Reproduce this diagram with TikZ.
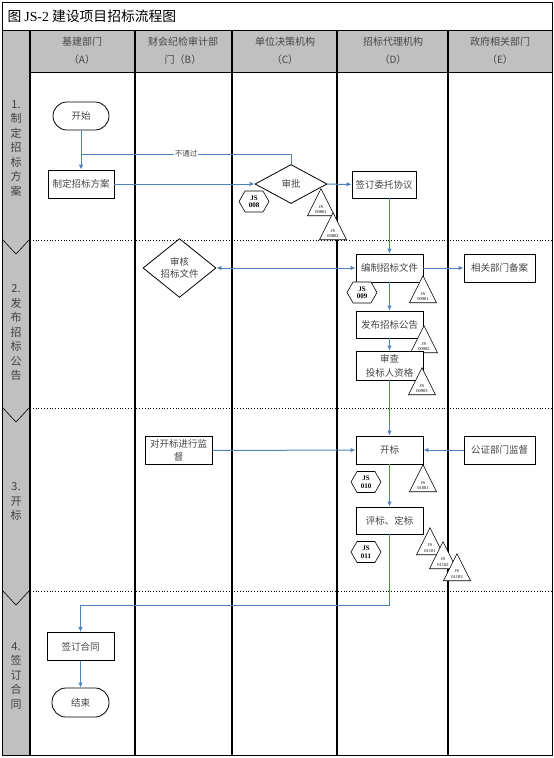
\documentclass[tikz,border=0pt]{standalone}
\usepackage{fontspec}
\setmainfont{Noto Sans CJK SC}
\newfontfamily\latinfont{Liberation Serif}
\definecolor{flowblue}{RGB}{79, 129, 189}
\definecolor{lanegray}{RGB}{192, 192, 192}
\definecolor{textgray}{RGB}{70, 70, 70}
\usetikzlibrary{arrows.meta, shapes.geometric, shapes.symbols, calc}

\begin{document}
\begin{tikzpicture}[
    x=1pt, y=-1pt,
    every node/.append style={font=\fontsize{9.5}{14}\selectfont, text=textgray},
    >={Latex[length=5pt, width=4.5pt]},
  ]

  \tikzset{
    procbox/.style={
      draw=black, line width=0.8pt, fill=white,
      minimum width=67pt, minimum height=28pt, inner sep=1pt, align=center,
    },
    termbox/.style={
      draw=black, line width=0.8pt, fill=white, rounded corners=14pt,
      minimum width=56pt, minimum height=28pt,
    },
    decision/.style={
      diamond, draw=black, line width=0.8pt, fill=white,
      minimum width=72pt, minimum height=39pt, inner sep=0pt, align=center,
      font=\fontsize{9.5}{12}\selectfont,
    },
    hexmark/.style={
      signal, signal to=east and west, signal pointer angle=120,
      draw=black, line width=0.6pt, fill=white,
      minimum width=30pt, minimum height=21pt, inner sep=0pt, align=center,
      font=\latinfont\bfseries\fontsize{7}{7.5}\selectfont, text=black,
    },
    trimark/.style={
      isosceles triangle, shape border rotate=90, isosceles triangle stretches,
      draw=black, line width=0.6pt, fill=white,
      minimum width=27pt, minimum height=27pt, inner sep=0pt, align=center,
      font=\latinfont\fontsize{4.5}{5.5}\selectfont, text=black, anchor=apex,
    },
    flow/.style={->, line width=1pt, draw=flowblue},
    lanehead/.style={font=\fontsize{10}{18}\selectfont, align=center},
    phaselabel/.style={font=\fontsize{11}{14.5}\selectfont, align=center, text=black!75},
  }

  %% ---------------- FRAME AND LANES ----------------
  \useasboundingbox (0,0) rectangle (554,758);
  \fill[lanegray] (2,30) rectangle (552,72);
  \fill[lanegray] (2,72) rectangle (30,755);
  \draw[line width=0.8pt] (2,2) rectangle (552,755);
  \draw[line width=0.8pt] (2,30) -- (552,30);
  \draw[line width=0.8pt] (30,72) -- (552,72);
  \foreach \x in {30,135,232,337,448}
    \draw[line width=1.3pt] (\x,30) -- (\x,755);
  % phase borders
  \foreach \y in {240,408,591} {
    \draw[dotted, line width=0.8pt] (30,\y) -- (552,\y);
    \draw[line width=0.6pt] (3,\y) -- (16,\y+14) -- (29,\y);
  }

  % title and lane heads
  \node[anchor=west, font=\fontsize{13.8}{15}\selectfont, text=black] (title) at (4,16)
    {图 {\latinfont JS-2} 建设项目招标流程图};
  \node[lanehead] (laneA) at (82,51) {基建部门\\（A）};
  \node[lanehead] (laneB) at (183,51) {财会纪检审计部\\门（B）};
  \node[lanehead] (laneC) at (285,51) {单位决策机构\\（C）};
  \node[lanehead] (laneD) at (393,51) {招标代理机构\\（D）};
  \node[lanehead] (laneE) at (500,51) {政府相关部门\\（E）};

  % phase labels
  \node[phaselabel] (phase1) at (16,148.5) {1.\\制\\定\\招\\标\\方\\案};
  \node[phaselabel] (phase2) at (16,332.5) {2.\\发\\布\\招\\标\\公\\告};
  \node[phaselabel] (phase3) at (16,501.5) {3.\\开\\标};
  \node[phaselabel] (phase4) at (16,676) {4.\\签\\订\\合\\同};

  %% ---------------- PHASE 1 ----------------
  \node[termbox] (start) at (81,116) {开始};
  \node[procbox, minimum width=66pt] (plan) at (81,184) {制定招标方案};
  \node[decision] (approve) at (291,184) {审批};
  \node[procbox, minimum width=64pt, minimum height=27pt] (sign) at (384,184.5) {签订委托协议};
  \node[hexmark] (js008) at (254,201.5) {JS\\008};
  \node[trimark] (js00801) at (321,188) {JS\\00801};
  \node[trimark] (js00802) at (333,212) {JS\\00802};

  %% ---------------- PHASE 2 ----------------
  \node[decision, minimum width=73pt, minimum height=40pt] (review) at (179.5,268) {审核\\招标文件};
  \node[procbox] (draft) at (389.5,268) {编制招标文件};
  \node[procbox, minimum width=71pt] (file) at (499.5,268) {相关部门备案};
  \node[hexmark] (js009) at (362,292.5) {JS\\009};
  \node[trimark] (js00901) at (423,275) {JS\\00901};
  \node[procbox, minimum height=27pt] (publish) at (389.5,324.5) {发布招标公告};
  \node[trimark] (js00902) at (424,325) {JS\\00902};
  \node[procbox, minimum height=29pt] (qualify) at (389.5,365.5) {审查\\投标人资格};
  \node[trimark] (js00903) at (422,367) {JS\\00903};

  %% ---------------- PHASE 3 ----------------
  \node[procbox, font=\fontsize{9.5}{13}\selectfont] (supervise) at (178.5,450.5) {对开标进行监\\督};
  \node[procbox] (open) at (389.5,450) {开标};
  \node[procbox, minimum width=71pt] (notary) at (499.5,450) {公证部门监督};
  \node[hexmark] (js010) at (366,482) {JS\\010};
  \node[trimark] (js01001) at (423,464) {JS\\01001};
  \node[procbox, minimum height=27pt] (evaluate) at (389.5,520.5) {评标、定标};
  \node[hexmark] (js011) at (366,552) {JS\\011};
  \node[trimark] (js01101) at (430,527) {JS\\01101};
  \node[trimark] (js01102) at (443,541) {JS\\01102};
  \node[trimark] (js01103) at (457,553) {JS\\01103};

  %% ---------------- PHASE 4 ----------------
  \node[procbox] (contract) at (80.5,646.5) {签订合同};
  \node[termbox, minimum width=57pt, minimum height=29pt] (finish) at (80.5,702.5) {结束};

  %% ---------------- CONNECTORS ----------------
  \coordinate (reject) at (81,154);
  \coordinate (handover) at (80.5,605);
  \draw[flow] (start) -- (plan);
  \draw[flow, -] (approve.north) |- node[pos=0.75, fill=white, inner sep=0.5pt,
    font=\fontsize{7.5}{8}\selectfont] (rejectlabel) {不通过} (reject);
  \draw[flow] (plan) -- (approve);
  \draw[flow] (approve) -- (sign);
  \draw[flow] (draft.north |- sign.south) -- (draft);
  \draw[flow, <->] (review) -- (draft);
  \draw[flow] (draft) -- (file);
  \draw[flow] (draft) -- (publish);
  \draw[flow] (publish) -- (qualify);
  \draw[flow] (qualify) -- (open);
  \draw[flow] (supervise) -- (open);
  \draw[flow] (notary) -- (open);
  \draw[flow] (open) -- (evaluate);
  \draw[flow] (evaluate) |- (handover) -- (contract);
  \draw[flow] (contract) -- (finish);

\end{tikzpicture}
\end{document}
